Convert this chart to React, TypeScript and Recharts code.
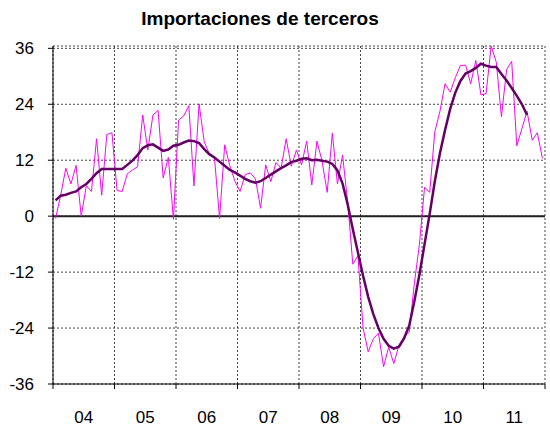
import React from 'react'
import {
  LineChart,
  Line,
  XAxis,
  YAxis,
  CartesianGrid,
  ReferenceLine,
} from 'recharts'

const years = ['04', '05', '06', '07', '08', '09', '10', '11']

// variación mensual (serie bruta), ene-04 a dic-11
const monthly = [
  -0.5, 4.5, 10.3, 6.9, 10.9, 0, 6.5, 5.3, 16.6, 4.5, 17.5, 17.9,
  5.5, 5.3, 9.1, 9.9, 10.6, 21.7, 14.2, 21.7, 22.7, 8.2, 12.6, -0.7,
  20.6, 21.5, 23.7, 6.5, 24.1, 16, 13.3, 12.6, -0.5, 15.3, 10.8, 7.5,
  5.3, 8.9, 9.3, 8, 1.7, 11, 7.4, 11.5, 10.3, 16.6, 10.7, 14.2,
  11, 16.1, 6.7, 16.1, 11.8, 5.1, 17.8, 6.9, 13.1, 3, -10.3, -8.5,
  -24, -29.1, -26.3, -25.1, -32.3, -28.1, -31.6, -27.7, -25.9, -24.9, -14.5, -6,
  6.2, 5.1, 18.1, 22.5, 28.4, 26.6, 29.7, 32.3, 32.4, 28.4, 33.4, 26,
  26.3, 36.5, 33, 21.3, 31.4, 33.2, 15.1, 18.8, 22.5, 16.3, 17.9, 12.4,
]

// tendencia, termina en sep-11
const trend = [
  3.4, 4.4, 4.6, 5, 5.3, 6.2, 6.9, 8, 9.2, 10.1, 10.1, 10.1,
  10.1, 10.1, 11, 11.9, 13.1, 14.6, 15.2, 15.4, 14.7, 14, 14.3, 15.1,
  15.3, 15.8, 16.2, 16.1, 15.7, 14.4, 13.3, 12.6, 11.7, 10.8, 9.9, 9.4,
  8.7, 8, 7.5, 7.2, 7.5, 8.2, 8.9, 9.6, 10.3, 10.9, 11.6, 11.9,
  12.3, 12.4, 12, 12.1, 11.9, 11.7, 11.2, 9.8, 7, 2.5, -2.8, -7.8,
  -12.8, -17.3, -21, -24, -26.3, -27.8, -28.4, -28, -26.2, -23.5, -18.3, -12.5,
  -6, 0.5, 7.5, 13.5, 18.5, 23, 26.5, 29, 30.6, 31.1, 31.8, 32.7,
  32.3, 32, 32, 30.5, 29.1, 27.5, 25.8, 24, 21.7,
]

const yTicks = [-36, -24, -12, 0, 12, 24, 36]
const xTicks = years.map((_, i) => i * 12).concat(years.length * 12)

const data = monthly.map((v, i) => ({
  x: i + 0.5,
  raw: v,
  trend: i < trend.length ? trend[i] : null,
}))

const W = 550
const H = 428
const Y_W = 53
const RIGHT = 5
const HALF_YEAR = (W - Y_W - RIGHT) / (years.length * 2)
const FONT = '"Liberation Sans", Arial, sans-serif'

function YearTick(props: any) {
  const { x, y, payload } = props
  const idx = payload.value / 12
  if (idx >= years.length) return <g />
  return (
    <text
      x={x + HALF_YEAR}
      y={y}
      dy="0.71em"
      textAnchor="middle"
      fontSize={17}
      fontFamily={FONT}
      fill="#000"
    >
      {years[idx]}
    </text>
  )
}

export default function App() {
  return (
    <div style={{ position: 'absolute', left: 0, top: 0, width: W, height: H, background: '#fff' }}>
      <div
        style={{
          position: 'absolute',
          left: 0,
          top: 8,
          width: 520,
          textAlign: 'center',
          fontFamily: FONT,
          fontWeight: 'bold',
          fontSize: 19,
          lineHeight: '22px',
          color: '#000',
        }}
      >
        Importaciones de terceros
      </div>
      <LineChart
        width={W}
        height={H}
        data={data}
        margin={{ top: 46, right: RIGHT, bottom: 0, left: 0 }}
      >
        <CartesianGrid stroke="#444" strokeDasharray="2 2" />
        <XAxis
          type="number"
          dataKey="x"
          domain={[0, 96]}
          ticks={xTicks}
          interval={0}
          height={44}
          tickSize={5}
          tickMargin={22}
          stroke="#000"
          tick={<YearTick />}
        />
        <YAxis
          domain={[-36, 36]}
          ticks={yTicks}
          width={Y_W}
          tickSize={5}
          tickMargin={14}
          stroke="#000"
          tick={{ fontSize: 17, fontFamily: FONT, fill: '#000' }}
        />
        <ReferenceLine y={0} stroke="#222" strokeWidth={2} />
        <Line
          dataKey="raw"
          stroke="#ff00ff"
          strokeWidth={1}
          dot={false}
          isAnimationActive={false}
        />
        <Line
          dataKey="trend"
          stroke="#660066"
          strokeWidth={2.5}
          dot={false}
          isAnimationActive={false}
        />
      </LineChart>
    </div>
  )
}
